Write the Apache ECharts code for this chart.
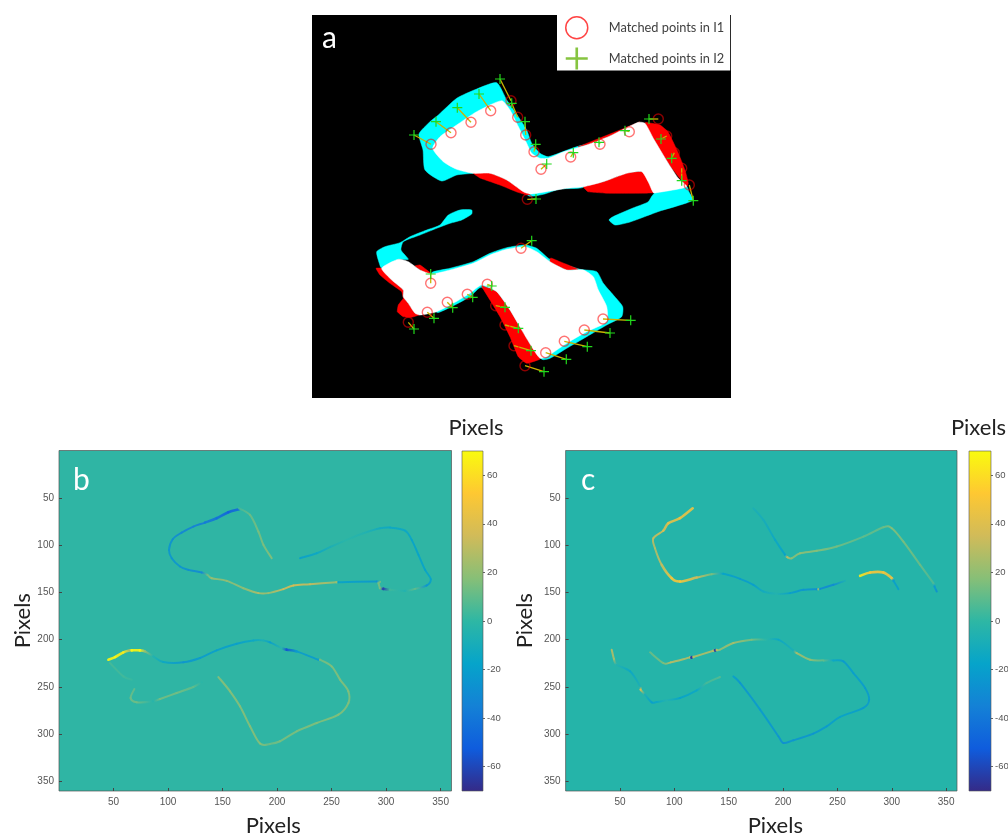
<!DOCTYPE html>
<html><head><meta charset="utf-8">
<style>html,body{margin:0;padding:0;background:#fff}#c{width:1008px;height:835px}</style>
<script src="https://cdn.jsdelivr.net/npm/echarts@6/dist/echarts.min.js"></script>
</head><body><div id="c"></div>
<script>
// ---------- Panel a: silhouettes, in the image's own pixel coordinates
const imageXRange = [312, 731];
const imageYRange = [15, 398];
const cyanUpper = [[419,134],[430,121.7],[438.3,115],[456.7,98.3],[476.7,89],[496.7,82.7],[506.7,100],[518.3,116.7],[526.7,130],[531.7,143.3],[540,153.3],[548.3,156.7],[586.7,145],[600,170],[583.3,187.3],[560,189],[543.3,194.3],[528.3,195.7],[510,170],[473.3,173.3],[456.7,175],[441.7,181],[425,170],[423,150]];
const cyanLobe = [[656,192],[686.7,186.7],[689,192],[693,200],[678,205.7],[660,211],[630,222],[615,225],[609,220],[613,216.7],[633,208],[648,202],[652,196]];
const cyanArm = [[376.7,251.7],[385,246.7],[400,242.7],[410,236.7],[426.7,230],[440,225],[448.3,215],[460,210],[471.7,210],[471.7,214],[461.7,220],[450,223.3],[436.7,228.3],[420,235],[403.3,241.7],[401,250],[408.3,259.3],[398.3,259.3],[381.7,268.3],[379.3,263.3]];
const cyanLower = [[431.7,272.7],[450,268.3],[473.3,261.7],[490,253.3],[506.7,247.7],[525,245],[536.7,248.3],[550,259.3],[580,269.3],[596.7,271.7],[603.3,283.3],[613.3,295],[622.7,306.7],[621.7,316.7],[606.7,325],[586.7,336.7],[566.7,348.3],[550,358.3],[541.7,359.3],[526.7,333.3],[481.7,287.3],[470,296.7],[453.3,305.7],[436.7,312.3],[440,283.3]];
const redBottomLeft = [[473,173],[480,178],[500,185],[517,192],[527,195],[530,194],[523,191],[507,180],[490,173]];
const redBottomRight = [[583.3,186.7],[588,191.7],[610,193.3],[653.3,192.7],[652,185],[643,172],[627,173],[603,182]];
const redRightEdge = [[645,122.7],[660,125],[668,131.7],[677,150],[685,170],[688.3,183.3],[686.7,186.7],[668.3,163.3],[653.3,138.3]];
const redSliver = [[578,147],[600,138],[620,130],[640,122],[610,136],[590,144]];
const redLowerLeft = [[376,268.3],[381.7,268.3],[391.7,280],[403.3,290],[403.3,296.7],[408.3,303.3],[415,313.3],[421.7,314],[411.7,317.3],[403.3,316.7],[397.3,311.7],[398.3,305],[403.3,298.3],[401.7,291.7],[390,283.3],[380,275]];
const redLowerArm = [[481.7,286],[496.7,291.7],[510,310],[521.7,330],[531.7,346.7],[540,359],[526.7,363.3],[518.3,356.7],[510,336.7],[500,316.7],[490,300]];
const redLowerTop = [[550.7,258],[560,261.7],[578.3,269.3],[566.7,270],[550,261.7]];
const redLowerNotch = [[420,265],[431.7,274],[425,272.7],[415,266]];
const whiteUpper = [[432.7,148.3],[440,136.7],[456.7,125],[476.7,111.7],[501.7,100.7],[510,110],[516.7,123.3],[521.7,133.3],[526.7,143.3],[531.7,153.3],[540,158.3],[548.3,158.3],[563.3,152],[586.7,145],[610,136],[638.3,122.3],[645,123.3],[653.3,138.3],[668.3,163.3],[678.3,178.3],[686.7,186.7],[656.7,192.7],[653.3,192.7],[648.3,182],[641.7,171.7],[626.7,173.3],[603.3,181.7],[583.3,186.7],[566.7,188.3],[546.7,191.7],[530,194],[523.3,191.7],[506.7,180],[490,173.3],[473.3,173.3],[456.7,169.3],[443.3,161.7]];
const whiteLower = [[381.7,268.3],[398.3,259.3],[408.3,261.7],[420,270],[431.7,274],[450,270],[473.3,263.3],[490,255],[506.7,249.3],[525,246.7],[536.7,251.7],[550,261.7],[566.7,270],[583.3,270],[593.3,276.7],[598.3,290],[606.7,306.7],[606.7,321.7],[586.7,331.7],[566.7,343.3],[546.7,356.7],[540,358.3],[531.7,346.7],[521.7,330],[510,310],[496.7,291.7],[481.7,285],[470,293.3],[453.3,303.3],[436.7,311.7],[420,315],[415,313.3],[408.3,303.3],[403.3,296.7],[403.3,290],[391.7,280]];
const pointsI1 = [[431,144.3],[451,132.7],[471,122.3],[490.7,110.7],[511,100.7],[517.7,117.3],[525.7,135],[534,151.7],[541,169.3],[570.7,157],[600,144.3],[629.3,131.7],[658.3,119],[666.7,136],[674.3,152.7],[681.7,168.3],[689.3,185],[527.3,199.3],
  [521,248.3],[430.7,283.3],[487.3,284.3],[467.3,294.3],[447.3,302.3],[427.3,312.3],[408.3,322.3],[495.7,305.7],[505,325],[514,345.7],[525,365.7],[545.7,352.7],[564.3,341.3],[584.3,330],[603,319]];
const pointsI2 = [[414,135],[436,121.7],[457.3,107.7],[479,94],[500,79],[511.7,103.3],[525,121.7],[535.7,144.3],[546.7,164],[573.3,152.7],[599,142.3],[625,130.7],[649,119],[661,139],[671.7,158.3],[681.7,180.7],[693.3,200.7],[536,199],
  [531.7,240.7],[430.7,274],[491.7,286],[472.7,297.3],[452.7,307.7],[434,318.3],[414,329],[505,307.3],[518.3,328.3],[531,350.7],[544,371.7],[566.3,359.3],[587.3,346.7],[610,333],[630.7,320.3]];

// ---------- Panel b: edge traces [x, y, displacement]
const bLoopTop = [[165.1,62.1,-45],[155.3,65.3,-50],[144.6,71.6,-42],[133.9,76.2,-38],[123.2,80.4,-35],[112.5,86.8,-32],[104.3,93.8,-28],[100.9,105.1,-25],[103.4,113.9,-25],[111,122.7,-25],[118.7,126.2,-28],[130.9,129,-32],[136.1,131.5,12],[140.1,135,22],[153.8,137.8,20],[169.1,145.6,20],[182.9,150.8,28],[192,150.8,22],[205.8,146.6,35],[215,142.7,38],[230.3,141.3,33],[254.7,139.2,22],[256.3,139.2,-18],[291.4,138.5,-25],[293,140.3,15],[294.5,145.5,15],[297.5,146.3,-62],[303.6,147.3,3],[317.4,148.4,-5],[326.6,146.3,10],[337.3,142.7,-25],[341,136,-18],[335.8,126.2,-18],[329.7,110.3,-18],[323.5,94.5,-18],[317.4,84.6,-15],[303.6,81.5,-15],[294.5,82.2,-12],[279.2,87.5,-5],[263.9,94.5,-2],[248.6,102.2,-8],[236.4,108.6,-15],[221.1,113.9,-20]];
const bSpurTop = [[165.1,61.1,5],[175.2,68.1,12],[182.9,85.7,15],[187.5,99.8,16],[195.1,113.9,18]];
const bLoopBottom = [[45.3,221.2,68],[51.4,218.4,68],[59,213.4,65],[65.1,211.3,25],[66.7,211.3,68],[74.3,211.3,68],[78.9,212.4,20],[86.5,217.7,-5],[95.7,223.6,-15],[114.1,224,-25],[129.4,219.4,-22],[144.6,211.3,-20],[163,204.3,-20],[178.3,200.8,-15],[187.5,200.8,-8],[193.6,202.9,-20],[204.3,208.9,-3],[208.9,210.6,-55],[218,212.4,-22],[237.9,221.2,-22],[239.4,221.2,14],[250.1,228.2,17],[257.8,242.3,17],[265.4,254.6,17],[265.4,267,17],[256.3,279.3,17],[236.4,288.1,17],[218,296.9,16],[202.7,307.4,15],[193.6,310.2,12],[184.4,309.9,18],[175.2,291.6,18],[166,270.5,18],[156.9,254.6,18],[146.2,239.5,18]];
const bSpurBottom = [[46.8,224.7,5],[59,238.8,4],[66.7,242.3,2]];
const bTail = [[69.1,252.2,10],[65.7,261.7,13],[71.2,266.2,13],[86.5,265.2,-3],[92.7,262.7,14],[107.9,256.4,14],[123.2,250,10],[130.9,245.1,-2]];

// ---------- Panel c: edge traces [x, y, displacement]
const cLoopTop = [[116.9,61.1,45],[105.2,71.6,45],[94.5,76.9,42],[89.9,84.7,38],[80.7,92.8,32],[82.2,103.3,28],[88.4,120.9,32],[97.6,135,48],[105.3,138.5,50],[120.6,134.3,35],[134.4,130.8,15],[145.1,130.4,-18],[160.5,135.7,-22],[172.7,142,-20],[181.9,149.1,-12],[194.2,151.5,-5],[206.5,150.8,-20],[218.7,147.3,-25],[231,146.6,-28],[232.5,146.6,22],[234.1,146.3,-30],[246.3,142,-30],[257,137.8,-8]];
const cHook = [[270.9,132.5,65],[280.1,129,50],[292.3,129,48],[300,135,45],[301.5,137.4,-20],[306.1,146.6,-20]];
const cRidge = [[172.7,61.1,-8],[181.9,73.4,-10],[192.7,94.5,-15],[201.9,110.3,-18],[204,112.8,30],[208,113.9,18],[215.7,108.6,20],[231,106.1,18],[249.4,101.5,14],[274,91,10],[292.3,81.1,12],[300,82.2,18],[310.7,96.3,15],[326.1,120.9,12],[338.3,140.3,6],[339.3,143.8,-22],[341.4,149.1,-28]];
const cTail = [[42.4,210.6,30],[44.5,220.5,25],[47,226.5,-5],[59.3,233.5,-15],[68.5,249.3,-8],[69,252.9,40],[73,258.1,-8],[79.2,266.2,-20],[83.8,265.9,-15],[93,264.1,-5],[105.3,261.7,-18],[120.6,253.6,-15],[129.8,245.8,5],[142,239.5,8]];
const cLoopBottom = [[77.7,213.4,12],[89.9,224.7,15],[96.7,224,30],[114.5,218.7,28],[116,218.7,-65],[117.5,218.4,28],[135.9,211.7,28],[137.5,211.3,-65],[139,211,28],[142,210.6,20],[154.3,203.6,25],[171.2,200,15],[183.5,200,0],[195.7,200,-15],[209.5,211.3,-8],[212.6,214.1,25],[224.9,221.2,20],[237.1,221.9,10],[246.3,221.9,-15],[255.5,222.9,-22],[264.7,235.3,-20],[275.5,251.1,-22],[279.2,263.4,-22],[273.9,272.2,-22],[252.5,281.7,-18],[240.2,291.6,-22],[227.9,299.3,-25],[209.5,306.4,-25],[200.3,309.2,-28],[195.7,302.1,-25],[178.9,274,-22],[160.5,245.8,-25],[154.3,238.8,-20]];

// ---------- Axes and scale
const colorTicks = [-60,-40,-20,0,20,40,60];
const colorRange = [-70,70];
const parula = ['#352a87','#0f5cdd','#1481d6','#06a4ca','#2eb7a4','#87bf77','#d1bb59','#fec832','#f9fb0e'];
const seriesNames = ['Matched points in I1','Matched points in I2'];

const PLUS = 'path://M44,0H56V44H100V56H56V100H44V56H0V44H44Z';
const hex = c => [1,3,5].map(i => parseInt(c.substr(i,2),16));
function colorOf(v){
  const t = Math.max(0,Math.min(1,(v-colorRange[0])/(colorRange[1]-colorRange[0])))*(parula.length-1);
  const i = Math.min(parula.length-2,Math.floor(t)), f = t-i;
  const a = hex(parula[i]), b = hex(parula[i+1]);
  return 'rgb('+a.map((x,k)=>Math.round(x+(b[k]-x)*f)).join(',')+')';
}
function polygonSeries(polys,color,z,smooth){
  return {type:'custom',xAxisIndex:0,yAxisIndex:0,z,silent:true,clip:false,
    data:polys.map(p=>p[0]),
    renderItem(params,api){
      return {type:'polygon',shape:{points:polys[params.dataIndex].map(q=>api.coord(q)),smooth},style:{fill:color,stroke:color,lineWidth:.5}};
    }};
}
function traceSeries(traces,axis){
  const segs=[];
  traces.forEach(tr=>{for(let i=0;i<tr.length-1;i++){
    const p=tr[Math.max(0,i-1)],a=tr[i],b=tr[i+1],n=tr[Math.min(tr.length-1,i+2)];
    segs.push([a[0],a[1],a[2],b[0],b[1],b[2],p[0],p[1],n[0],n[1]]);
  }});
  return {type:'custom',xAxisIndex:axis,yAxisIndex:axis,z:3,silent:true,data:segs,encode:{x:0,y:1},
    renderItem(params,api){
      const a=api.coord([api.value(0),api.value(1)]),b=api.coord([api.value(3),api.value(4)]);
      const p=api.coord([api.value(6),api.value(7)]),n=api.coord([api.value(8),api.value(9)]);
      const va=api.value(2),vb=api.value(5);
      const wide=Math.abs(va)>40||Math.abs(vb)>40?2.6:2;
      return {type:'bezierCurve',shape:{x1:a[0],y1:a[1],x2:b[0],y2:b[1],
          cpx1:a[0]+(b[0]-p[0])/6,cpy1:a[1]+(b[1]-p[1])/6,cpx2:b[0]-(n[0]-a[0])/6,cpy2:b[1]-(n[1]-a[1])/6},
        style:{lineWidth:wide,lineCap:'round',fill:null,opacity:.9,
          stroke:{type:'linear',x:a[0],y:a[1],x2:b[0]===a[0]&&b[1]===a[1]?b[0]+1:b[0],y2:b[1],global:true,
            colorStops:[{offset:0,color:colorOf(va)},{offset:1,color:colorOf(vb)}]}}};
    }};
}
function barSeries(axis){
  return {type:'custom',xAxisIndex:axis,yAxisIndex:axis,silent:true,z:3,clip:false,data:[[0,colorRange[0]]],
    renderItem(params,api){
      const a=api.coord([0,colorRange[1]]),b=api.coord([1,colorRange[0]]);
      return {type:'rect',shape:{x:a[0],y:a[1],width:b[0]-a[0],height:b[1]-a[1]},
        style:{stroke:'#555',lineWidth:.6,fill:{type:'linear',x:0,y:1,x2:0,y2:0,
          colorStops:parula.map((c,i)=>({offset:i/(parula.length-1),color:c}))}}};
    }};
}
const tickFont={fontFamily:'Liberation Sans',fontSize:10,color:'#555'};
const PIX={fontFamily:'Lato',fontSize:22,color:'#222'};
const LETTER={color:'#fff',fontFamily:'Lato',fontSize:30,fontWeight:'normal'};
function xPix(grid,pad){return {gridIndex:grid,type:'value',min:0,max:360,interval:50,
  name:'Pixels',nameLocation:'middle',nameGap:24,nameTextStyle:Object.assign({},PIX,{padding:[0,0,0,pad]}),
  axisLine:{show:false,onZero:false},splitLine:{show:false},
  axisTick:{inside:true,length:3,lineStyle:{color:'#444'}},
  axisLabel:Object.assign({},tickFont,{showMinLabel:false,showMaxLabel:false,margin:6})};}
function yPix(grid,gap){return {gridIndex:grid,type:'value',inverse:true,min:0,max:360,interval:50,
  name:'Pixels',nameLocation:'middle',nameGap:gap,nameTextStyle:PIX,
  axisLine:{show:false,onZero:false},splitLine:{show:false},
  axisTick:{inside:true,length:3,lineStyle:{color:'#444'}},
  axisLabel:Object.assign({},tickFont,{showMinLabel:false,showMaxLabel:false,margin:5})};}
function xBar(grid){return {gridIndex:grid,type:'value',min:0,max:1,show:false};}
function yBar(grid,pad){return {gridIndex:grid,type:'value',position:'right',min:colorRange[0],max:colorRange[1],
  name:'Pixels',nameLocation:'end',nameGap:12,nameTextStyle:Object.assign({},PIX,{padding:[0,pad,0,0]}),
  axisLine:{show:false,onZero:false},splitLine:{show:false},
  axisTick:{show:true,length:2,lineStyle:{color:'#666'},customValues:colorTicks},
  axisLabel:Object.assign({},tickFont,{fontSize:9.5,margin:4,customValues:colorTicks})};}

const option={
  animation:false,
  backgroundColor:'#fff',
  title:[
    {text:'a',left:317,top:18,textStyle:LETTER},
    {text:'b',left:68,top:460,textStyle:LETTER},
    {text:'c',left:576,top:460,textStyle:LETTER}
  ],
  legend:{
    left:557,top:15,orient:'vertical',selectedMode:false,backgroundColor:'#fff',
    padding:[1,6,1,8],itemWidth:40,itemHeight:22,itemGap:8,z:20,
    textStyle:{fontFamily:'Lato',fontSize:12.8,color:'#404040',padding:[0,0,0,7]},
    data:[
      {name:seriesNames[0],icon:'circle',itemStyle:{color:'rgba(0,0,0,0)',borderColor:'#f44',borderWidth:1.5}},
      {name:seriesNames[1],icon:PLUS,itemStyle:{color:'#86c440',borderWidth:0}}
    ]
  },
  grid:[
    {left:imageXRange[0],top:imageYRange[0],width:imageXRange[1]-imageXRange[0],height:imageYRange[1]-imageYRange[0],show:true,backgroundColor:'#000',borderWidth:0,outerBoundsMode:'none'},
    {left:59,top:450.5,width:392.5,height:340.5,show:true,backgroundColor:'#2fb5a4',borderColor:'#555',borderWidth:.7,outerBoundsMode:'none'},
    {left:462,top:451,width:21,height:340,outerBoundsMode:'none'},
    {left:565.6,top:450.5,width:391.4,height:340.5,show:true,backgroundColor:'#25b4a9',borderColor:'#555',borderWidth:.7,outerBoundsMode:'none'},
    {left:969,top:451,width:22,height:340,outerBoundsMode:'none'}
  ],
  xAxis:[
    {gridIndex:0,type:'value',min:imageXRange[0],max:imageXRange[1],show:false},
    xPix(1,36),xBar(2),xPix(3,28),xBar(4)
  ],
  yAxis:[
    {gridIndex:0,type:'value',inverse:true,min:imageYRange[0],max:imageYRange[1],show:false},
    yPix(1,25),yBar(2,14),yPix(3,30),yBar(4,25)
  ],
  series:[
    polygonSeries([cyanUpper,cyanLobe,cyanArm,cyanLower],'#00ffff',1,.2),
    polygonSeries([redBottomLeft,redBottomRight,redRightEdge,redSliver,redLowerLeft,redLowerArm,redLowerTop,redLowerNotch],'#ff0000',2,.1),
    polygonSeries([whiteUpper,whiteLower],'#ffffff',3,.2),
    {type:'custom',xAxisIndex:0,yAxisIndex:0,z:4,silent:true,clip:false,data:pointsI1,
      renderItem(params,api){
        const a=api.coord(pointsI1[params.dataIndex]),b=api.coord(pointsI2[params.dataIndex]);
        return {type:'line',shape:{x1:a[0],y1:a[1],x2:b[0],y2:b[1]},style:{stroke:'#c9b400',lineWidth:1.3}};
      }},
    {name:seriesNames[0],type:'scatter',xAxisIndex:0,yAxisIndex:0,z:5,data:pointsI1,symbol:'circle',symbolSize:10,silent:true,
      itemStyle:{color:'rgba(0,0,0,0)',borderColor:'rgba(255,0,0,.55)',borderWidth:1.4,opacity:1}},
    {name:seriesNames[1],type:'scatter',xAxisIndex:0,yAxisIndex:0,z:6,data:pointsI2,symbol:PLUS,symbolSize:10,silent:true,
      itemStyle:{color:'#22d81c',opacity:1}},
    traceSeries([bLoopTop,bSpurTop,bLoopBottom,bSpurBottom,bTail],1),
    barSeries(2),
    traceSeries([cLoopTop,cHook,cRidge,cTail,cLoopBottom],3),
    barSeries(4)
  ]
};
const chart=echarts.init(document.getElementById('c'),null,{renderer:'canvas'});
chart.setOption(option);
</script></body></html>
